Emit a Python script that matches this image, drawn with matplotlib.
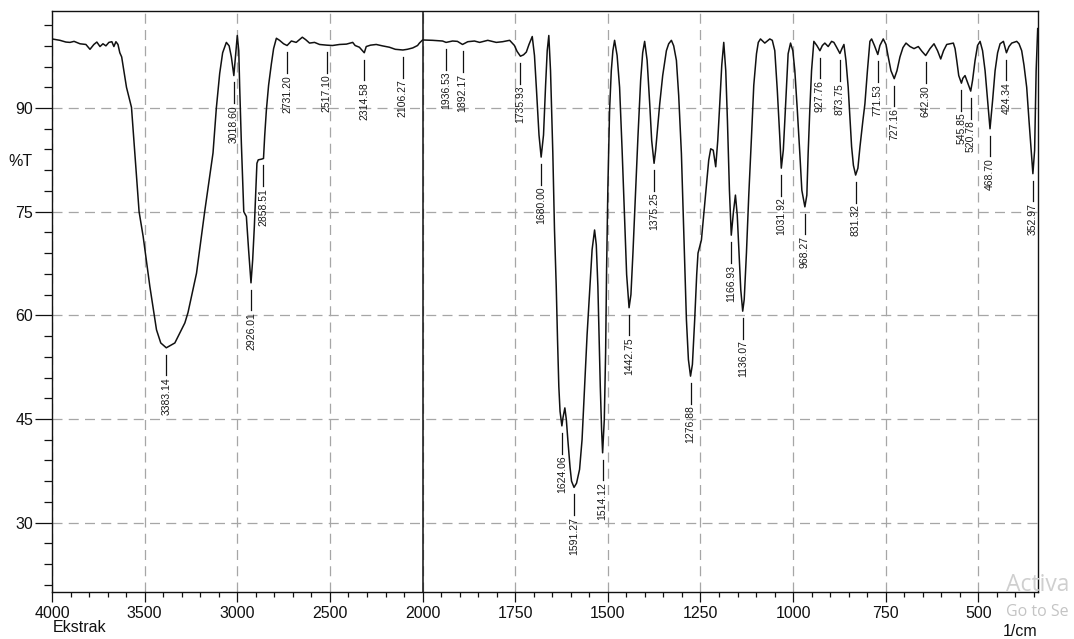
import numpy as np
import matplotlib
matplotlib.use("Agg")
import matplotlib.pyplot as plt
from matplotlib.ticker import FixedLocator

plt.rcParams['font.family'] = ['Liberation Sans', 'DejaVu Sans']

# FTIR spectrum of the extract: wavenumber (1/cm) and transmittance (%T)
wavenumber = [
    4000, 3957, 3925, 3903, 3881, 3849, 3817, 3795, 3774, 3758, 3741, 3725, 3709, 3693, 3677,
    3666, 3655, 3644, 3634, 3624, 3598, 3571, 3553, 3530, 3508, 3472, 3436, 3413, 3383.14, 3337,
    3283, 3266, 3220, 3176, 3131, 3113, 3095, 3079, 3059, 3044, 3032, 3018.60, 3009, 3000, 2992,
    2987, 2978, 2965, 2951, 2939, 2926.01, 2917, 2908, 2894, 2887, 2870, 2858.51, 2852, 2843, 2831,
    2816, 2804, 2789, 2772, 2750, 2731.20, 2708, 2682, 2649, 2631, 2610, 2583, 2556, 2517.10, 2486,
    2448, 2411, 2377, 2364, 2341, 2314.58, 2304, 2281, 2250, 2217, 2179, 2147, 2106.27, 2082, 2053,
    2027, 2017, 2000, 1973, 1946, 1936.53, 1919, 1906, 1892.17, 1878, 1860, 1846, 1824, 1801, 1784,
    1765, 1752, 1745, 1735.93, 1727.6, 1720, 1712.8, 1704, 1698, 1692.5, 1685.8, 1680.00, 1673.6, 1668,
    1663.6, 1659.3, 1654.7, 1648.5, 1644, 1639.3, 1635.8, 1632.3, 1629, 1624.06, 1621, 1616, 1612, 1608,
    1602, 1598, 1591.27, 1584.5, 1576.3, 1569.6, 1562.8, 1556, 1549.3, 1542.5, 1535.8, 1531.2, 1526.9,
    1520.4, 1516.9, 1514.12, 1509.6, 1506, 1503.4, 1499.9, 1495.3, 1490.7, 1486.4, 1481.8, 1475, 1468.3,
    1461.5, 1454.7, 1449.3, 1442.75, 1437.7, 1432.3, 1425, 1418.8, 1411.5, 1406, 1400.7, 1394, 1387,
    1381.7, 1375.25, 1371, 1360, 1352, 1342, 1335.8, 1328.5, 1322.3, 1315, 1308.8, 1301.5, 1295.3, 1288,
    1282.6, 1276.88, 1271.8, 1265.6, 1260.2, 1256.7, 1247.5, 1241.3, 1234, 1227.8, 1222.4, 1215.6, 1208.9,
    1203.4, 1198, 1192.6, 1187.2, 1181.8, 1177.3, 1171.9, 1166.93, 1161.1, 1155.7, 1150.8, 1145.9, 1141.3,
    1136.07, 1132, 1126, 1119.7, 1112.4, 1106.2, 1098.9, 1094, 1088.1, 1076.5, 1063, 1056.2, 1049.5,
    1042.7, 1036, 1031.92, 1026.5, 1022.4, 1013.5, 1007, 1000.8, 995.4, 988.7, 981.9, 976.5, 968.27, 963,
    959.5, 955, 950.3, 944.1, 936, 927.76, 921.1, 914.4, 905.4, 896.2, 890, 882.7, 873.75, 868.3, 862.9,
    857.5, 851.4, 842.2, 837.3, 831.32, 825.2, 819.6, 811.7, 806.3, 799.5, 792.8, 788.2, 780.6, 771.53,
    765.8, 756.8, 749.5, 743.3, 736, 727.16, 719.8, 711.7, 703.6, 695.4, 684.6, 673.8, 662.2, 652.3,
    642.30, 630.6, 619.8, 610.3, 601.7, 594.1, 585.5, 576.6, 567.6, 563, 558.5, 553.1, 545.85, 542, 536.1,
    529.3, 520.78, 515.8, 509, 502.3, 495.5, 488.8, 482, 475.3, 468.70, 461.7, 455, 448.2, 441.5, 432.5,
    424.34, 417.5, 410.1, 396.6, 390.4, 383.2, 377, 369.7, 363.5, 352.97, 348.3, 344.2, 340,
]
transmittance = [
    100.0, 99.8, 99.55, 99.5, 99.65, 99.3, 99.2, 98.5, 99.2, 99.55, 98.9, 99.3, 99.0, 99.5, 99.6,
    98.9, 99.6, 99.2, 98.0, 97.4, 93.0, 90.1, 83.4, 75.0, 71.4, 64.2, 57.9, 56.0, 55.3, 56.0,
    58.9, 60.4, 66.1, 75.0, 83.5, 90.0, 95.0, 98.0, 99.5, 99.0, 97.4, 94.7, 97.6, 100.5, 98.3,
    93.0, 84.9, 75.0, 74.3, 69.5, 64.7, 68.0, 72.8, 82.0, 82.5, 82.6, 82.7, 86.0, 89.7, 93.3,
    96.4, 98.6, 100.1, 99.8, 99.3, 99.05, 99.7, 99.5, 100.25, 99.9, 99.4, 99.5, 99.2, 99.1, 99.05,
    99.2, 99.25, 99.5, 99.05, 98.8, 98.0, 98.9, 99.1, 99.2, 99.0, 98.8, 98.5, 98.4, 98.5, 98.7,
    99.05, 99.4, 99.85, 99.8, 99.7, 99.5, 99.7, 99.65, 99.2, 99.6, 99.7, 99.5, 99.8, 99.5, 99.6,
    99.8, 99.05, 98.2, 97.5, 97.7, 98.1, 99.2, 100.35, 97.6, 92.55, 86.1, 82.9, 86.1, 93.3,
    98.3, 100.5, 95.4, 83.5, 72.4, 64.2, 56.5, 49.7, 46.1, 44.0, 45.2, 46.6, 44.9, 42.0,
    38.0, 36.0, 35.1, 35.7, 37.7, 42.0, 49.7, 57.2, 63.2, 69.5, 72.35, 70.2, 64.2,
    49.7, 43.5, 40.1, 44.9, 54.6, 66.6, 78.6, 89.7, 95.4, 98.3, 99.8, 97.6, 93.0,
    83.9, 73.8, 65.9, 61.1, 63.0, 69.0, 78.1, 85.8, 94.0, 98.0, 99.65, 96.9, 90.6,
    85.3, 82.0, 83.9, 90.6, 94.7, 98.3, 99.3, 99.8, 99.0, 96.9, 91.8, 83.4, 72.35, 59.4,
    53.6, 51.2, 52.9, 59.4, 65.9, 69.0, 70.9, 74.5, 78.6, 82.45, 84.1, 83.9, 81.5,
    85.3, 90.6, 96.2, 99.5, 95.4, 88.2, 78.1, 71.6, 74.95, 77.4, 74.5, 69.0, 63.7,
    60.6, 62.3, 69.0, 77.4, 85.8, 93.3, 97.85, 99.5, 100.0, 99.4, 100.0, 99.8, 98.3,
    92.55, 85.8, 81.3, 83.9, 88.2, 97.85, 99.4, 98.3, 95.4, 89.7, 83.4, 78.1, 75.7, 77.4,
    83.4, 89.7, 95.4, 99.65, 99.05, 98.3, 99.05, 99.4, 98.9, 99.65, 99.5, 98.8, 97.9, 98.6, 99.2,
    96.9, 93.0, 84.4, 81.7, 80.3, 81.3, 84.4, 88.2, 90.6, 95.4, 99.65, 100.0, 99.05, 97.75,
    99.05, 100.0, 99.2, 97.4, 95.4, 94.25, 95.4, 97.4, 98.75, 99.4, 98.9, 98.6, 98.9, 98.2,
    97.6, 98.6, 99.3, 98.3, 97.1, 98.3, 99.2, 99.3, 99.4, 98.6, 96.9, 94.7, 93.6, 94.3, 94.7,
    93.7, 92.45, 94.0, 96.9, 99.05, 99.65, 98.3, 95.4, 91.1, 87.0, 91.1, 95.4, 98.0, 99.3, 99.65,
    98.0, 98.9, 99.4, 99.65, 99.3, 98.3, 96.2, 93.0, 88.2, 80.5, 83.9, 95.4, 101.5,
]

# Labelled absorption bands (1/cm)
peak_wavenumbers = [
    3383.14, 3018.60, 2926.01, 2858.51, 2731.20, 2517.10, 2314.58, 2106.27,
    1936.53, 1892.17, 1735.93, 1680.00, 1624.06, 1591.27, 1514.12, 1442.75,
    1375.25, 1276.88, 1166.93, 1136.07, 1031.92, 968.27, 927.76, 873.75,
    831.32, 771.53, 727.16, 642.30, 545.85, 520.78, 468.70, 424.34, 352.97,
]

x_major = [4000, 3500, 3000, 2500, 2000, 1750, 1500, 1250, 1000, 750, 500]
y_major = [30, 45, 60, 75, 90]

wn = np.asarray(wavenumber, dtype=float)
tr = np.asarray(transmittance, dtype=float)


# Wavenumber axis: 4000-2000 at one scale, below 2000 stretched two-fold
def forward(x):
    x = np.asarray(x, dtype=float)
    return np.where(x >= 2000, x, 2 * x - 2000)


def inverse(u):
    u = np.asarray(u, dtype=float)
    return np.where(u >= 2000, u, (u + 2000) / 2)


fig = plt.figure(figsize=(10.74, 6.39), dpi=100)
ax = fig.add_axes([0.04842, 0.07402, 0.91778, 0.90829])
ax.set_xscale('function', functions=(forward, inverse))
ax.set_xlim(4000, 340)
ax.set_ylim(20, 104)

ink = '#111111'
ax.plot(wn, tr, color=ink, lw=1.1, zorder=3)
ax.axvline(2000, color=ink, lw=1.1, zorder=2)

# peak markers and labels
order = np.argsort(wn)
for pk in peak_wavenumbers:
    t = float(np.interp(pk, wn[order], tr[order]))
    ax.plot([pk, pk], [t - 1.0, t - 4.0], color=ink, lw=0.9, zorder=3)
    ax.text(pk, t - 4.25, f"{pk:.2f}", rotation=90, ha='center', va='top',
            fontsize=7.5, color='#1a1a1a', zorder=4)

# ticks
x_minor = list(range(3900, 2000, -100)) + list(range(1950, 340, -50))
ax.xaxis.set_major_locator(FixedLocator(x_major))
ax.xaxis.set_minor_locator(FixedLocator(x_minor))
ax.set_xticklabels([str(v) for v in x_major])
ax.yaxis.set_major_locator(FixedLocator(y_major))
ax.yaxis.set_minor_locator(FixedLocator(list(range(21, 104, 3))))
ax.set_yticklabels([str(v) for v in y_major])
ax.tick_params(axis='x', which='major', length=7, width=0.9, pad=3.5,
               labelsize=11.5, colors=ink)
ax.tick_params(axis='x', which='minor', length=3.6, width=0.9, colors=ink)
ax.tick_params(axis='y', which='major', length=12, width=0.9, pad=1.5,
               labelsize=11.5, colors=ink)
ax.tick_params(axis='y', which='minor', length=6, width=0.9, colors=ink)

for s in ax.spines.values():
    s.set_color(ink)
    s.set_linewidth(1.0)

ax.grid(True, which='major', color='#a6a6a6', lw=0.9, linestyle=(0, (8, 5)), zorder=1)
ax.set_axisbelow(True)

fig.text(32.5 / 1074, 1 - 161 / 639, '%T', ha='right', va='center', fontsize=11.5, color=ink)
fig.text(53 / 1074, 1 - 627 / 639, 'Ekstrak', ha='left', va='center', fontsize=11.5, color=ink)
fig.text(1037 / 1074, 1 - 632 / 639, '1/cm', ha='right', va='center', fontsize=11.5, color=ink)

# desktop activation notice sitting over the lower right corner
fig.text(1006 / 1074, 1 - 591 / 639, 'Activa', ha='left', va='baseline',
         fontsize=16.5, color='#cfcfcf', family=['Open Sans', 'DejaVu Sans'], zorder=10)
fig.text(1006 / 1074, 1 - 616 / 639, 'Go to Se', ha='left',
         va='baseline', fontsize=11.5, color='#c4c4c4', family=['Open Sans', 'DejaVu Sans'],
         zorder=10)

fig.savefig('out.png', dpi=100)
